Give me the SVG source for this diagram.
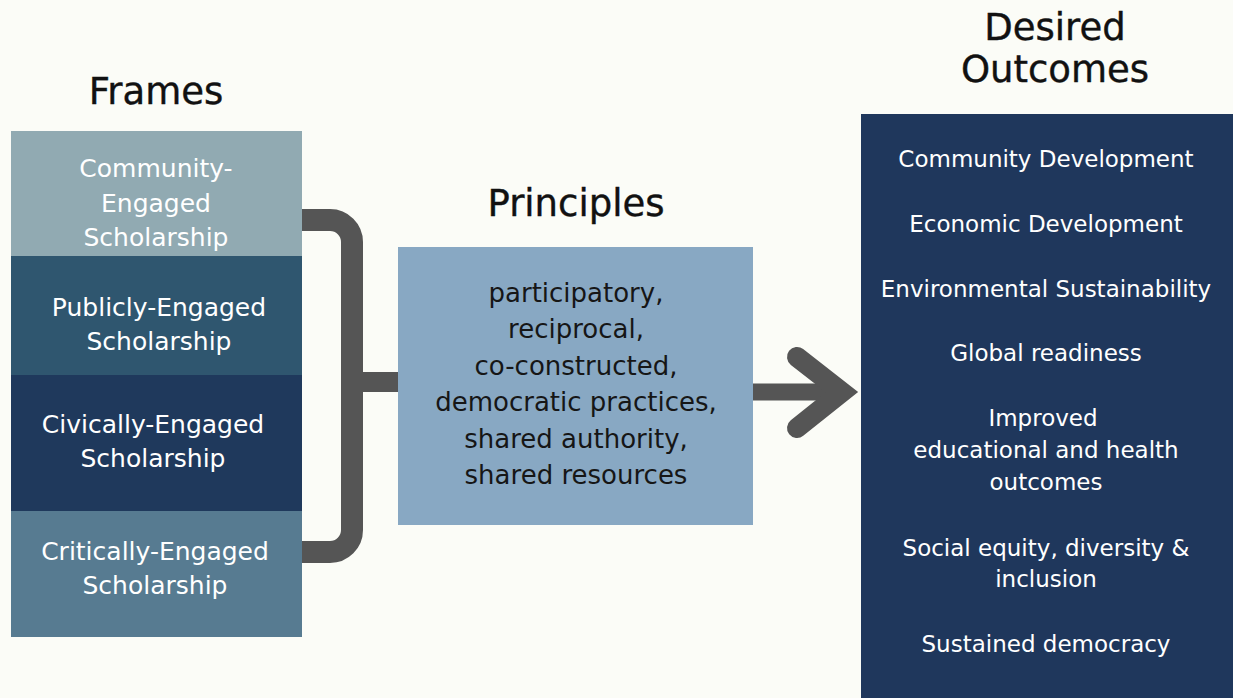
<svg xmlns="http://www.w3.org/2000/svg" width="1233" height="698" viewBox="0 0 1233 698">
<style>
.t{font-family:"DejaVu Sans","Liberation Sans",sans-serif;text-anchor:middle}
.title{font-size:37px;fill:#111111;stroke:#111111;stroke-width:0.4}
.fr{font-size:25px;fill:#ffffff}
.pr{font-size:26px;fill:#161616}
.oc{font-size:23px;fill:#ffffff}
.conn{fill:none;stroke:#555555}
</style>
<rect width="1233" height="698" fill="#FBFCF7"/>
<g id="titles">
<text class="t title" x="156" y="104">Frames</text>
<text class="t title" x="576" y="216">Principles</text>
<text class="t title" x="1055" y="40">Desired</text>
<text class="t title" x="1055" y="82">Outcomes</text>
</g>
<g id="connectors">
<path class="conn" stroke-width="22" d="M300,220 H330 A22,22 0 0 1 352,242 V530 A22,22 0 0 1 330,552 H300"/>
<path class="conn" stroke-width="20" d="M352,382 H400"/>
<path class="conn" stroke-width="17" d="M752,392 H846"/>
<path class="conn" stroke-width="20" stroke-linecap="round" stroke-linejoin="miter" stroke-miterlimit="10" d="M797,357 L842,392 L797,428"/>
</g>
<g id="frame-community">
<rect x="11" y="131" width="291" height="125" fill="#91AAB2"/>
<text class="t fr" x="156" y="177">Community-</text>
<text class="t fr" x="156" y="212">Engaged</text>
<text class="t fr" x="156" y="246">Scholarship</text>
</g>
<g id="frame-publicly">
<rect x="11" y="256" width="291" height="119" fill="#2F566F"/>
<text class="t fr" x="159" y="316">Publicly-Engaged</text>
<text class="t fr" x="159" y="350">Scholarship</text>
</g>
<g id="frame-civically">
<rect x="11" y="375" width="291" height="136" fill="#1F395C"/>
<text class="t fr" x="153" y="433">Civically-Engaged</text>
<text class="t fr" x="153" y="467">Scholarship</text>
</g>
<g id="frame-critically">
<rect x="11" y="511" width="291" height="126" fill="#577B91"/>
<text class="t fr" x="155" y="560">Critically-Engaged</text>
<text class="t fr" x="155" y="594">Scholarship</text>
</g>
<g id="principles">
<rect x="398" y="247" width="355" height="278" fill="#88A8C3"/>
<text class="t pr" x="576" y="302">participatory,</text>
<text class="t pr" x="576" y="338">reciprocal,</text>
<text class="t pr" x="576" y="375">co-constructed,</text>
<text class="t pr" x="576" y="411">democratic practices,</text>
<text class="t pr" x="576" y="448">shared authority,</text>
<text class="t pr" x="576" y="484">shared resources</text>
</g>
<g id="outcomes">
<rect x="861" y="114" width="372" height="584" fill="#1F375C"/>
<text class="t oc" x="1046" y="167">Community Development</text>
<text class="t oc" x="1046" y="232">Economic Development</text>
<text class="t oc" x="1046" y="297">Environmental Sustainability</text>
<text class="t oc" x="1046" y="361">Global readiness</text>
<text class="t oc" x="1043" y="426">Improved</text>
<text class="t oc" x="1046" y="458">educational and health</text>
<text class="t oc" x="1046" y="490">outcomes</text>
<text class="t oc" x="1046" y="556">Social equity, diversity &amp;</text>
<text class="t oc" x="1046" y="587">inclusion</text>
<text class="t oc" x="1046" y="652">Sustained democracy</text>
</g>
</svg>
